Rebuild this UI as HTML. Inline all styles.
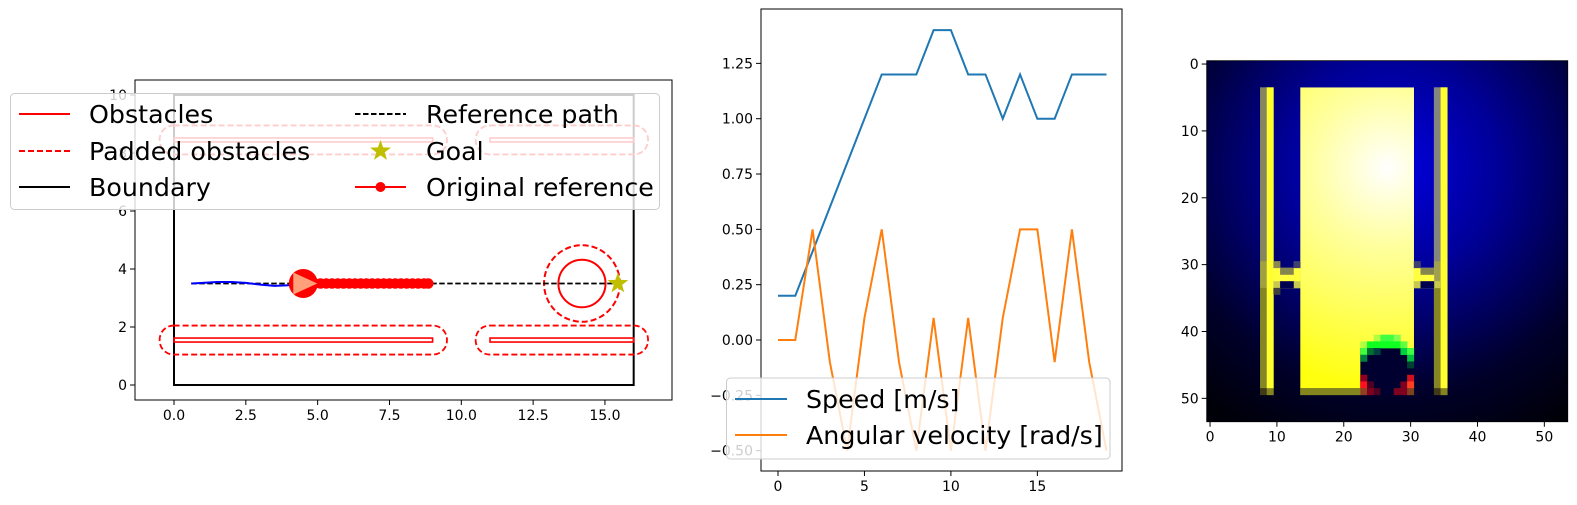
<!DOCTYPE html>
<html><head><meta charset="utf-8"><style>
html,body{margin:0;padding:0;background:#fff;}
svg{display:block;font-family:"DejaVu Sans","Liberation Sans",sans-serif;}
</style></head><body>
<svg id="fig" width="1577" height="505" viewBox="0 0 1577 505" xmlns="http://www.w3.org/2000/svg">
<defs>
<radialGradient id="bgGrad" gradientUnits="userSpaceOnUse" cx="1392" cy="168" r="300">
<stop offset="0" stop-color="#0000e0"/><stop offset="0.35" stop-color="#000099"/><stop offset="0.75" stop-color="#00002a"/><stop offset="1" stop-color="#000008"/>
</radialGradient>
<radialGradient id="ylGrad" gradientUnits="userSpaceOnUse" cx="1388" cy="168" r="220">
<stop offset="0" stop-color="#ffffff"/><stop offset="0.35" stop-color="#ffffa0"/><stop offset="1" stop-color="#ffff10"/>
</radialGradient>
<clipPath id="leftClip"><rect x="135" y="80" width="537" height="320"/></clipPath>
<clipPath id="midClip"><rect x="761" y="9" width="361" height="462"/></clipPath>
</defs>
<g id="left"></g>
<g id="mid"></g>
<g id="right"></g>
</svg>
<script>
// ---------- data: velocity chart ----------
const steps = [0,1,2,3,4,5,6,7,8,9,10,11,12,13,14,15,16,17,18,19];
const speed = [0.2,0.2,0.4,0.6,0.8,1.0,1.2,1.2,1.2,1.4,1.4,1.2,1.2,1.0,1.2,1.0,1.0,1.2,1.2,1.2];
const angVel = [0,0,0.5,-0.1,-0.5,0.1,0.5,-0.1,-0.5,0.1,-0.5,0.1,-0.5,0.1,0.5,0.5,-0.1,0.5,-0.1,-0.5];
const midXTicks = [0,5,10,15];
const midYTicks = [-0.5,-0.25,0,0.25,0.5,0.75,1.0,1.25];
const midYLabels = ["\u22120.50","\u22120.25","0.00","0.25","0.50","0.75","1.00","1.25"];
// ---------- data: map ----------
const leftXTicks = [0,2.5,5,7.5,10,12.5,15];
const leftXLabels = ["0.0","2.5","5.0","7.5","10.0","12.5","15.0"];
const leftYTicks = [0,2,4,6,8,10];
const obstacleX0 = [0,11,0,11];
const obstacleX1 = [9,16,9,16];
const obstacleY = [1.55,1.55,8.45,8.45];
const circleCx = [14.2];
const circleCy = [3.5];
const circleR = [0.82];
const padding = [0.5];
const refPathX = [0.6,15.5];
const refPathY = [3.5,3.5];
const goalX = [15.45];
const goalY = [3.5];
const trajX = [0.6,1.0,1.5,2.0,2.5,3.0,3.5,4.0,4.3];
const trajY = [3.5,3.52,3.55,3.55,3.52,3.46,3.42,3.44,3.5];
const robotX = [4.5];
const robotY = [3.5];
const origRefX = [4.9,5.1,5.3,5.5,5.7,5.9,6.1,6.3,6.5,6.7,6.9,7.1,7.3,7.5,7.7,7.9,8.1,8.3,8.5,8.7,8.85];
const origRefY = [3.5,3.5,3.5,3.5,3.5,3.5,3.5,3.5,3.5,3.5,3.5,3.5,3.5,3.5,3.5,3.5,3.5,3.5,3.5,3.5,3.5];
// ---------- image ticks ----------
const imgTicks = [0,10,20,30,40,50];

const NS="http://www.w3.org/2000/svg";
const TF=14, LF=25.3;
function mk(tag,attrs,parent){const e=document.createElementNS(NS,tag);for(const k in attrs)e.setAttribute(k,attrs[k]);parent.appendChild(e);return e;}
function txt(s,x,y,anchor,size,parent){const t=mk('text',{x:x,y:y,'text-anchor':anchor,'font-size':size,fill:'#000'},parent);t.textContent=s;return t;}

// ================= LEFT PANEL =================
const L=document.getElementById('left');
const lx=v=>174+v*28.73, ly=v=>385-v*29;
const lp=mk('g',{'clip-path':'url(#leftClip)'},L);


const bd=mk('rect',{x:lx(0),y:ly(10),width:lx(16)-lx(0),height:ly(0)-ly(10),fill:'none',stroke:'#000','stroke-width':2},lp);


for(let i=0;i<obstacleX0.length;i++){
  const p=padding[0];
  const pr=mk('rect',{x:lx(obstacleX0[i]-p),y:ly(obstacleY[i]+p),width:lx(obstacleX1[i]+p)-lx(obstacleX0[i]-p),height:ly(obstacleY[i]-p)-ly(obstacleY[i]+p),rx:14,ry:14,fill:'none',stroke:'#f00','stroke-width':1.8,'stroke-dasharray':'6,3'},lp);
  
  
  const ob=mk('rect',{x:lx(obstacleX0[i]),y:ly(obstacleY[i])-2,width:lx(obstacleX1[i])-lx(obstacleX0[i]),height:4,fill:'none',stroke:'#f00','stroke-width':1.6},lp);
  
  
}
for(let i=0;i<circleCx.length;i++){
  const c1=mk('ellipse',{cx:lx(circleCx[i]),cy:ly(circleCy[i]),rx:circleR[i]*28.73,ry:circleR[i]*29,fill:'none',stroke:'#f00','stroke-width':2},lp);
  
  
  const c2=mk('ellipse',{cx:lx(circleCx[i]),cy:ly(circleCy[i]),rx:(circleR[i]+padding[0])*28.73,ry:(circleR[i]+padding[0])*29,fill:'none',stroke:'#f00','stroke-width':2,'stroke-dasharray':'6,3'},lp);
  
  
}
const rp=mk('line',{x1:lx(refPathX[0]),y1:ly(refPathY[0]),x2:lx(refPathX[1]),y2:ly(refPathY[1]),stroke:'#000','stroke-width':1.8,'stroke-dasharray':'5.5,2.5'},lp);


const tr=mk('polyline',{points:trajX.map((x,i)=>lx(x)+','+ly(trajY[i])).join(' '),fill:'none',stroke:'#0000ff','stroke-width':2},lp);


const orl=mk('polyline',{points:origRefX.map((x,i)=>lx(x)+','+ly(origRefY[i])).join(' '),fill:'none',stroke:'#f00','stroke-width':1.5},lp);


origRefX.forEach((x,i)=>{
  const d=mk('circle',{cx:lx(x),cy:ly(origRefY[i]),r:5.3,fill:'#f00'},lp);
  
  
});
const rb=mk('ellipse',{cx:lx(robotX[0]),cy:ly(robotY[0]),rx:14.5,ry:14.5,fill:'#f00'},lp);


const rx0=lx(robotX[0]),ry0=ly(robotY[0]);
const tri=mk('polygon',{points:`${rx0-10},${ry0-11} ${rx0+14},${ry0} ${rx0-10},${ry0+11}`,fill:'#ffa07a'},lp);


function star(cx,cy,R,r){let p=[];for(let k=0;k<10;k++){const a=-Math.PI/2+k*Math.PI/5;const rr=k%2?r:R;p.push((cx+rr*Math.cos(a)).toFixed(1)+','+(cy+rr*Math.sin(a)).toFixed(1));}return p.join(' ');}
const gs=mk('polygon',{points:star(lx(goalX[0]),ly(goalY[0]),11,4.4),fill:'#bfbf00'},lp);


const lf=mk('rect',{x:135,y:80,width:537,height:320,fill:'none',stroke:'#000','stroke-width':1},L);


leftXTicks.forEach((v,i)=>{
  const t=mk('line',{x1:lx(v),y1:400,x2:lx(v),y2:405,stroke:'#000'},L);
  
  
  const l=txt(leftXLabels[i],lx(v),420,'middle',TF,L);
  
  
});
leftYTicks.forEach(v=>{
  const t=mk('line',{x1:130,y1:ly(v),x2:135,y2:ly(v),stroke:'#000'},L);
  
  
  const l=txt(String(v),127,ly(v)+5,'end',TF,L);
  
  
});
const lg=mk('g',{},L);


mk('rect',{x:10.5,y:93.5,width:649,height:116,rx:4,fill:'#fff','fill-opacity':0.8,stroke:'#ccc','stroke-width':1},lg);
const legRows=[114,151,187];
function legEntry(name,hx,tx,y,kind,label){
  const g=mk('g',{},lg);
  
  
  if(kind==='solid-red')mk('line',{x1:hx,y1:y,x2:hx+51,y2:y,stroke:'#f00','stroke-width':2},g);
  if(kind==='dash-red')mk('line',{x1:hx,y1:y,x2:hx+51,y2:y,stroke:'#f00','stroke-width':2,'stroke-dasharray':'6,3'},g);
  if(kind==='solid-black')mk('line',{x1:hx,y1:y,x2:hx+51,y2:y,stroke:'#000','stroke-width':2},g);
  if(kind==='dash-black')mk('line',{x1:hx,y1:y,x2:hx+51,y2:y,stroke:'#000','stroke-width':2,'stroke-dasharray':'5.5,2.5'},g);
  if(kind==='star')mk('polygon',{points:star(hx+25.5,y,11,4.4),fill:'#bfbf00'},g);
  if(kind==='dot'){mk('line',{x1:hx,y1:y,x2:hx+51,y2:y,stroke:'#f00','stroke-width':2},g);mk('circle',{cx:hx+25.5,cy:y,r:5,fill:'#f00'},g);}
  txt(label,tx,y+9,'start',LF,g);
}
legEntry('legend-obstacles',19,89,legRows[0],'solid-red','Obstacles');
legEntry('legend-padded-obstacles',19,89,legRows[1],'dash-red','Padded obstacles');
legEntry('legend-boundary',19,89,legRows[2],'solid-black','Boundary');
legEntry('legend-reference-path',355,426,legRows[0],'dash-black','Reference path');
legEntry('legend-goal',355,426,legRows[1],'star','Goal');
legEntry('legend-original-reference',355,426,legRows[2],'dot','Original reference');

// ================= MIDDLE PANEL =================
const M=document.getElementById('mid');
const mx=v=>778+v*17.29, my=v=>340-v*221.3;
const mp=mk('g',{'clip-path':'url(#midClip)'},M);
const sp=mk('polyline',{points:steps.map((s,i)=>mx(s)+','+my(speed[i])).join(' '),fill:'none',stroke:'#1f77b4','stroke-width':2},mp);


const av=mk('polyline',{points:steps.map((s,i)=>mx(s)+','+my(angVel[i])).join(' '),fill:'none',stroke:'#ff7f0e','stroke-width':2},mp);


const mf=mk('rect',{x:761,y:9,width:361,height:462,fill:'none',stroke:'#000'},M);


midXTicks.forEach(v=>{
  const t=mk('line',{x1:mx(v),y1:471,x2:mx(v),y2:476,stroke:'#000'},M);
  
  
  const l=txt(String(v),mx(v),491,'middle',TF,M);
  
  
});
midYTicks.forEach((v,i)=>{
  const t=mk('line',{x1:756,y1:my(v),x2:761,y2:my(v),stroke:'#000'},M);
  
  
  const l=txt(midYLabels[i],753,my(v)+5,'end',TF,M);
  
  
});
const mg=mk('g',{},M);


mk('rect',{x:726.5,y:378,width:383.5,height:81,rx:4,fill:'#fff','fill-opacity':0.8,stroke:'#ccc'},mg);
const e1=mk('g',{},mg);


mk('line',{x1:735,y1:399,x2:787,y2:399,stroke:'#1f77b4','stroke-width':2},e1);
txt('Speed [m/s]',806,408,'start',LF,e1);
const e2=mk('g',{},mg);


mk('line',{x1:735,y1:435,x2:787,y2:435,stroke:'#ff7f0e','stroke-width':2},e2);
txt('Angular velocity [rad/s]',806,444,'start',LF,e2);

// ================= RIGHT PANEL (image) =================
const R=document.getElementById('right');
const X0=1206.7,Y0=60.7,C=6.686;
const cx=c=>X0+c*C, cy=r=>Y0+r*C;
const bg=mk('rect',{x:X0,y:Y0,width:54*C,height:54*C,fill:'url(#bgGrad)'},R);


function cell(c,r,col,w,h){mk('rect',{x:cx(c)-0.15,y:cy(r)-0.15,width:(w||1)*C+0.3,height:(h||1)*C+0.3,fill:col},R);}
const yr=mk('rect',{x:cx(14),y:cy(4),width:17*C,height:45*C,fill:'url(#ylGrad)'},R);


cell(8,4,'#858560',1,26); cell(8,30,'#a0a040',1,4); cell(8,34,'#858525',1,15); cell(8,49,'#403a18');
cell(9,4,'#ffff30',1,45); cell(9,49,'#858520');
cell(34,4,'#858580',1,26); cell(34,30,'#a0a050',1,4); cell(34,34,'#858525',1,15); cell(34,49,'#403a18');
cell(35,4,'#ffff30',1,45); cell(35,49,'#858520');
cell(10,31,'#ffff40',4,3); cell(31,31,'#ffff40',3,3);
cell(10,30,'#8a8a50'); cell(13,30,'#404070'); cell(11,31,'#858550',2,1);
cell(10,33,'#c8c850'); cell(13,33,'#c8c850'); cell(11,33,'#000050',2,1); cell(10,34,'#404040');
cell(31,30,'#404070'); cell(32,31,'#858550',2,1);
cell(31,33,'#c8c850'); cell(34,33,'#c8c850'); cell(32,33,'#000050',2,1);
cell(14,49,'#858520',9,1);
cell(23,43,'#000030',8,6);
cell(25,41,'#b0ff40'); cell(26,41,'#40ff40',2,1); cell(28,41,'#80ff50');
cell(23,42,'#b0ff40'); cell(24,42,'#10ff20',5,1); cell(29,42,'#60ff40');
cell(23,43,'#40ff40'); cell(24,43,'#007030'); cell(25,43,'#004040'); cell(29,43,'#00d040'); cell(30,43,'#40ff40');
cell(23,44,'#008040'); cell(30,44,'#00c040');
cell(30,45,'#004030');
cell(23,47,'#900020'); cell(30,47,'#d01020');
cell(23,48,'#ff1020'); cell(24,48,'#500020'); cell(29,48,'#800020'); cell(30,48,'#ff4020');
cell(23,49,'#904020'); cell(24,49,'#800020'); cell(25,49,'#500020'); cell(26,49,'#000030',2,1); cell(28,49,'#800020',2,1); cell(30,49,'#804020');
const rf=mk('rect',{x:X0,y:Y0,width:54*C,height:54*C,fill:'none',stroke:'#000','stroke-width':0.8},R);


imgTicks.forEach(v=>{
  const tx=mk('line',{x1:cx(v+0.5),y1:Y0+54*C,x2:cx(v+0.5),y2:Y0+54*C+5,stroke:'#000'},R);
  
  
  const lxl=txt(String(v),cx(v+0.5),Y0+54*C+20,'middle',TF,R);
  
  
  const ty=mk('line',{x1:X0-5,y1:cy(v+0.5),x2:X0,y2:cy(v+0.5),stroke:'#000'},R);
  
  
  const lyl=txt(String(v),X0-8,cy(v+0.5)+5,'end',TF,R);
  
  
});
</script>
</body></html>
